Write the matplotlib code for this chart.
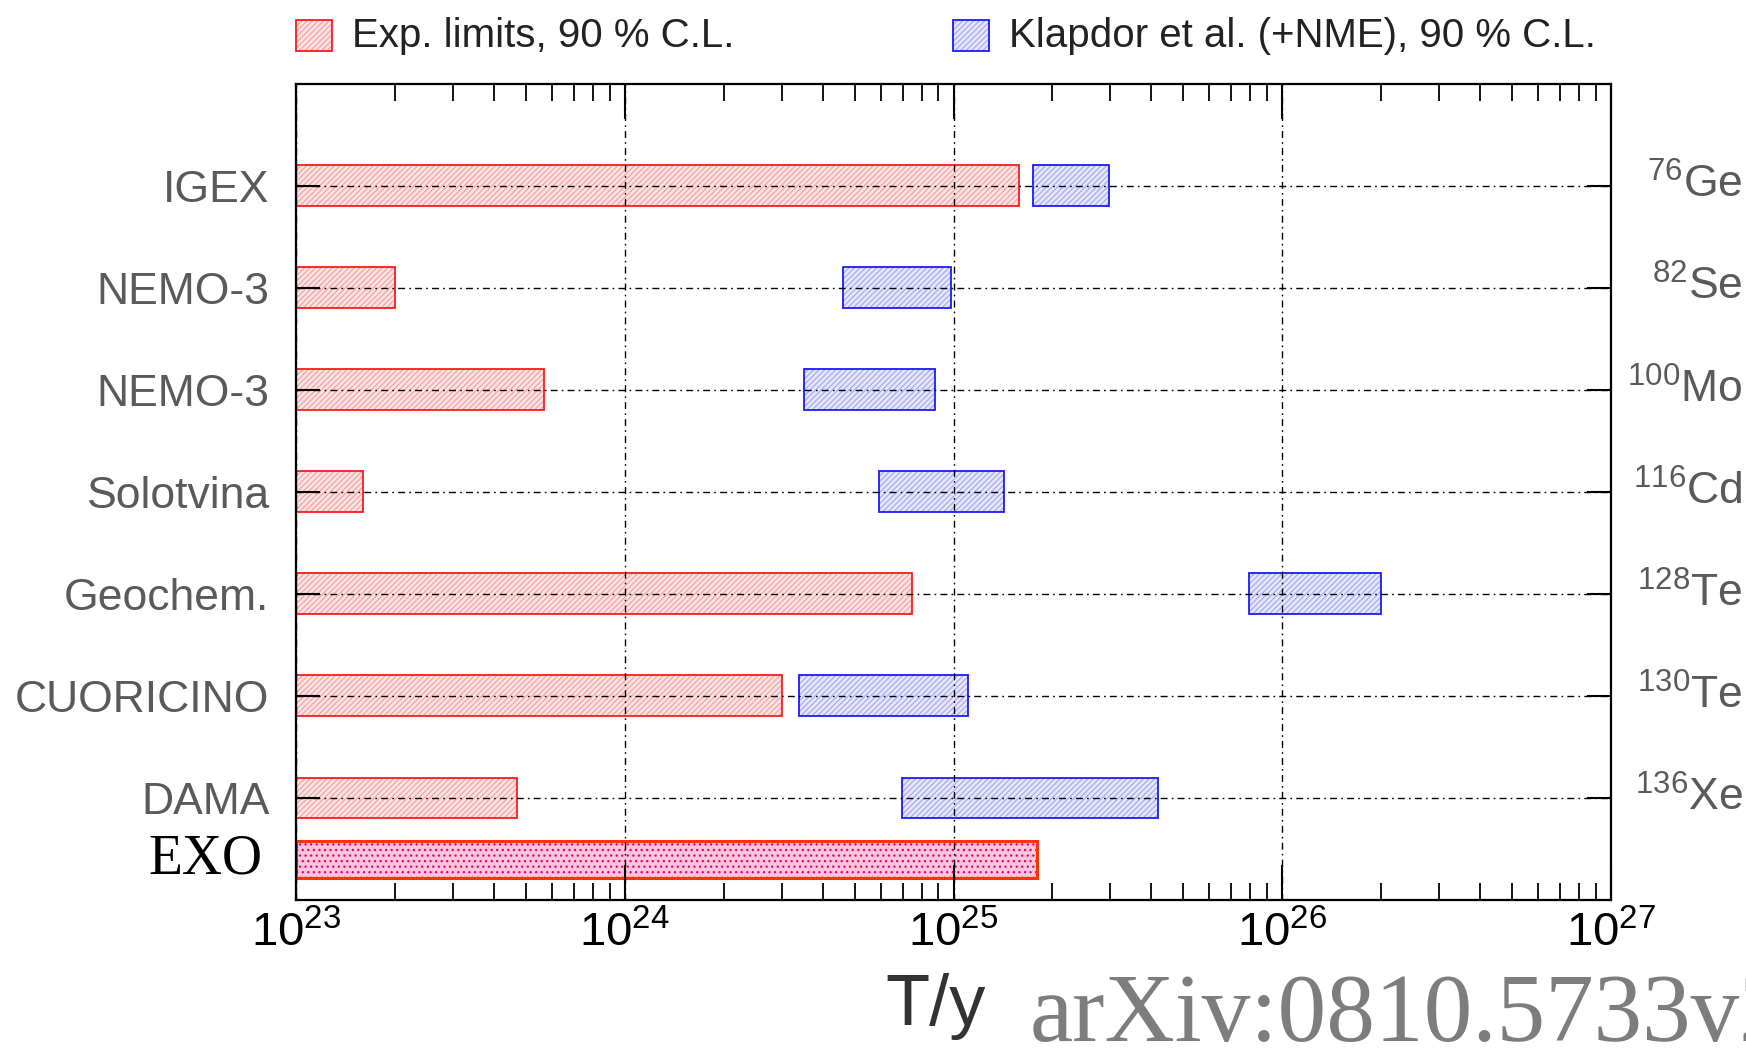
import matplotlib
matplotlib.use("Agg")
import matplotlib.pyplot as plt
from matplotlib.patches import Rectangle
from matplotlib.ticker import LogLocator, NullFormatter
from matplotlib import font_manager

# ---------------- data ----------------
experiments = ["IGEX", "NEMO-3", "NEMO-3", "Solotvina", "Geochem.", "CUORICINO", "DAMA"]
mass_numbers = ["76", "82", "100", "116", "128", "130", "136"]
elements = ["Ge", "Se", "Mo", "Cd", "Te", "Te", "Xe"]
exp_limits = [1.58e25, 2.0e23, 5.7e23, 1.6e23, 7.5e24, 3.0e24, 4.7e23]
klapdor_low = [1.75e25, 4.6e24, 3.5e24, 5.95e24, 7.9e25, 3.4e24, 6.95e24]
klapdor_high = [2.97e25, 9.8e24, 8.8e24, 1.42e25, 2.0e26, 1.11e25, 4.2e25]
exo_label = "EXO"
exo_limit = 1.79e25
row_pos = [7, 6, 5, 4, 3, 2, 1]
exo_pos = 0.4
x_min, x_max = 1e23, 1e27
legend_labels = ["Exp. limits, 90 % C.L.", "Klapdor et al. (+NME), 90 % C.L."]
xlabel = "T/y"
watermark = "arXiv:0810.5733v2"

# ---------------- fonts ----------------
avail = {f.name for f in font_manager.fontManager.ttflist}
sans = "Liberation Sans Narrow" if "Liberation Sans Narrow" in avail else "Liberation Sans"
plt.rcParams["font.family"] = [sans, "DejaVu Sans"]
plt.rcParams["mathtext.fontset"] = "custom"
plt.rcParams["mathtext.rm"] = sans
plt.rcParams["mathtext.it"] = sans
plt.rcParams["mathtext.bf"] = sans
plt.rcParams["hatch.linewidth"] = 0.9

fig = plt.figure(figsize=(17.46, 10.57), dpi=100)
L, R, T, B = 296 / 1746, 1611 / 1746, 83.5 / 1057, 900 / 1057
ax = fig.add_axes([L, 1 - B, R - L, B - T])
ax.set_xscale("log")
ax.set_xlim(x_min, x_max)
ax.set_ylim(0, 8)

bh = 0.40
red_edge, red_fill, red_hatch = "#ff1a1a", "#fde4e4", "#f6a3a3"
blue_edge, blue_fill, blue_hatch = "#1a1aff", "#e6e6fd", "#a9a9f3"

# experimental limits
widths = [v - x_min for v in exp_limits]
ax.barh(row_pos, widths, left=x_min, height=bh, color=red_fill,
        edgecolor=red_hatch, linewidth=0, hatch="//////", zorder=1)
ax.barh(row_pos, widths, left=x_min, height=bh, fill=False,
        edgecolor=red_edge, linewidth=1.3, zorder=1.2)
# Klapdor ranges
kw = [h - l for l, h in zip(klapdor_low, klapdor_high)]
ax.barh(row_pos, kw, left=klapdor_low, height=bh, color=blue_fill,
        edgecolor=blue_hatch, linewidth=0, hatch="//////", zorder=1)
ax.barh(row_pos, kw, left=klapdor_low, height=bh, fill=False,
        edgecolor=blue_edge, linewidth=1.3, zorder=1.2)
# EXO
ax.barh([exo_pos], [exo_limit - x_min], left=x_min, height=0.36, color="#fbc6da",
        edgecolor="#e8006e", linewidth=0, hatch="...", zorder=1)
ax.barh([exo_pos], [exo_limit - x_min], left=x_min, height=0.36, fill=False,
        edgecolor="#ff3300", linewidth=2.2, zorder=1.2)

# grid
ax.set_axisbelow(False)
ax.xaxis.set_major_locator(LogLocator(base=10, numticks=10))
ax.xaxis.set_minor_locator(LogLocator(base=10, subs=range(2, 10), numticks=50))
ax.xaxis.set_minor_formatter(NullFormatter())
ax.grid(True, which="major", axis="both", color="black", linestyle=(0, (5, 3, 1.2, 3)),
        linewidth=1.0, zorder=3)

ax.set_yticks(row_pos, experiments)
ax.tick_params(axis="y", which="both", direction="in", length=17, width=1.5,
               right=True, labelright=False, pad=19, labelsize=32, labelcolor="#5a5a5a")
ax.tick_params(axis="x", which="major", direction="in", length=25, width=1.5,
               top=True, pad=8, labelsize=34, labelcolor="black")
ax.tick_params(axis="x", which="minor", direction="in", length=12, width=1.3, top=True)
for s in ax.spines.values():
    s.set_linewidth(1.6)

# EXO label (serif)
ax.text(-34 / (R - L) / 1746, exo_pos, exo_label, transform=ax.get_yaxis_transform(),
        ha="right", va="center", fontsize=40, family=["Liberation Serif", "DejaVu Serif"],
        color="black")

# isotope labels on right
for y, a, el in zip(row_pos, mass_numbers, elements):
    ax.text(1743, y, r"$^{%s}$%s" % (a, el),
            transform=matplotlib.transforms.blended_transform_factory(
                matplotlib.transforms.IdentityTransform(), ax.transData),
            ha="right", va="center", fontsize=32, color="#5a5a5a")

# legend (manual)
for x0, fc, ec, hc, lab in [(296, red_fill, red_edge, red_hatch, legend_labels[0]),
                            (953, blue_fill, blue_edge, blue_hatch, legend_labels[1])]:
    fig.patches.append(Rectangle((x0 / 1746, 1 - 51 / 1057), 36 / 1746, 31 / 1057,
                                 transform=fig.transFigure, facecolor=fc, edgecolor=hc,
                                 linewidth=0, hatch="//////"))
    fig.patches.append(Rectangle((x0 / 1746, 1 - 51 / 1057), 36 / 1746, 31 / 1057,
                                 transform=fig.transFigure, fill=False, edgecolor=ec,
                                 linewidth=1.3))
    fig.text((x0 + 56) / 1746, 1 - 36 / 1057, lab, ha="left", va="center",
             fontsize=29, color="#222222")

# axis title
fig.text(936 / 1746, 1 - 1006 / 1057, xlabel, ha="center", va="center",
         fontsize=52, color="#333333")
# watermark (clipped at the right edge as in the reference)
fig.text(1030 / 1746, 1 - 1041 / 1057, watermark, ha="left", va="baseline",
         fontsize=70, color="#7d7d7d", family=["Liberation Serif", "DejaVu Serif"])

fig.savefig("out.png", dpi=100)
